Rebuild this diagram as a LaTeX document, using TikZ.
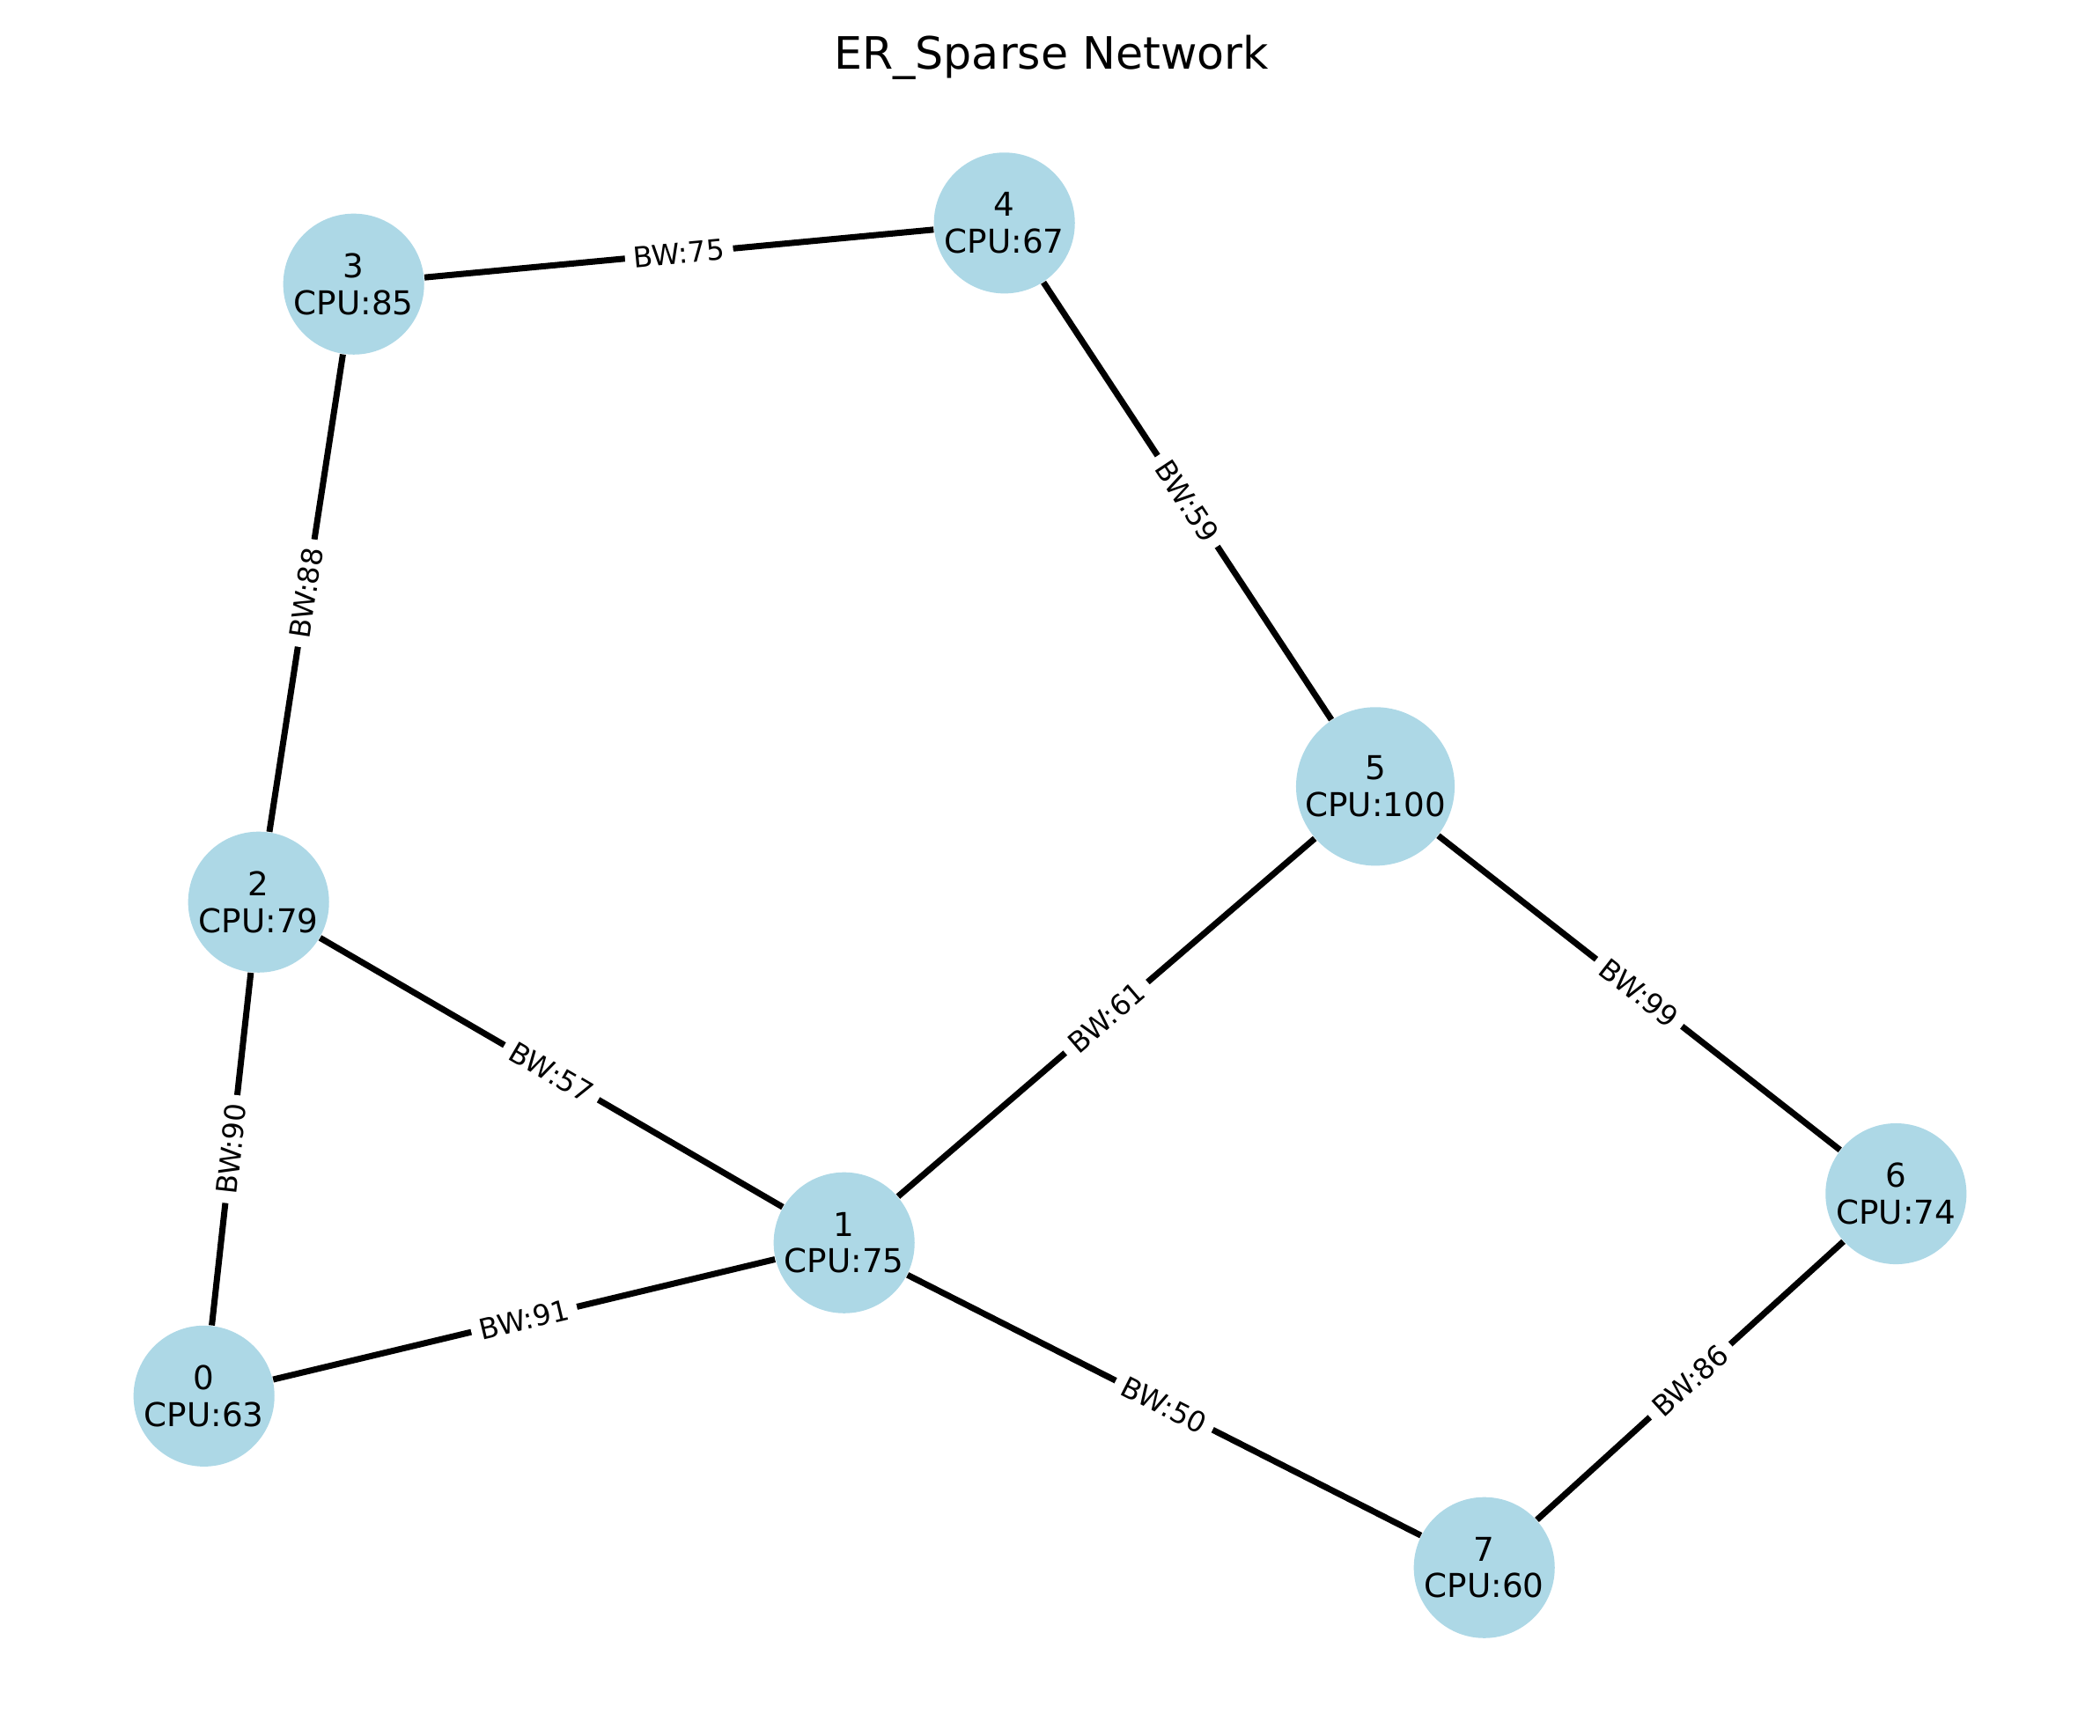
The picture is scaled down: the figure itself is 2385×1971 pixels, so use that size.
\documentclass[tikz,border=0pt]{standalone}
\usepackage{fontspec}
\setmainfont{DejaVu Sans}
\usepackage{tikz}
\definecolor{NodeBlue}{RGB}{173,216,230}

\begin{document}
\begin{tikzpicture}[x=0.01cm, y=-0.01cm,
    every node/.style={font=\fontsize{10.6}{11.9}\selectfont},
    host/.style={circle, fill=NodeBlue, inner sep=0pt, align=center},
    link/.style={line width=0.07cm},
    bwlabel/.style={midway, sloped, fill=white, inner xsep=0.1cm, inner ysep=0.06cm,
        font=\fontsize{9.2}{10}\selectfont}]
\useasboundingbox (0,0) rectangle (2385,1971);
\node[anchor=base, font=\fontsize{14.4}{16}\selectfont] (title) at (1194,78.5) {ER\_Sparse Network};
\foreach \n/\x/\y/\cpu/\d in {0/231.7/1585.8/63/1.6cm, 1/958.7/1411.7/75/1.6cm,
        2/293.7/1024.7/79/1.6cm, 3/401.7/322.7/85/1.6cm, 4/1140.7/253.3/67/1.6cm,
        5/1562/893.3/100/1.8cm, 6/2153.3/1356/74/1.6cm, 7/1685.7/1780.7/60/1.6cm}
    \node[host, minimum size=\d] (n\n) at (\x,\y) {\n\\CPU:\cpu};
\foreach \a/\b/\bw in {n3/n4/75, n3/n2/88, n4/n5/59, n2/n0/90, n2/n1/57,
        n0/n1/91, n1/n5/61, n1/n7/50, n5/n6/99, n6/n7/86}
    \draw[link] (\a) -- node[bwlabel] {BW:\bw} (\b);
\end{tikzpicture}
\end{document}
